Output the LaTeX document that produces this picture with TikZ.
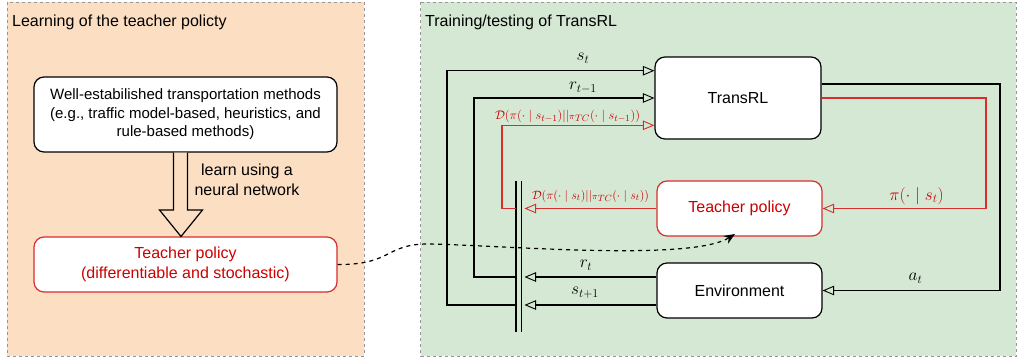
\documentclass[tikz,border=0pt]{standalone}
\usepackage{fontspec}
\usepackage{graphicx}
\setmainfont{Liberation Sans}
\usetikzlibrary{arrows.meta}
% larger sub- and superscripts for the small divergence labels
\DeclareMathSizes{12}{12}{9.5}{8}

\definecolor{peach}{RGB}{252,223,195}
\definecolor{mint}{RGB}{213,232,212}
\definecolor{tred}{RGB}{204,0,0}
\definecolor{lred}{RGB}{218,45,45}
\definecolor{framegray}{RGB}{150,150,150}

\tikzset{
  otri/.tip={Triangle[open,length=11.5pt,width=9.5pt,line width=0.9pt]},
  panel/.style={draw=framegray, line width=0.9pt, dash pattern=on 3pt off 3pt},
  box/.style={draw=black, line width=1.2pt, fill=white, rounded corners=10pt,
    inner sep=0pt, align=center, font=\fontsize{16}{20.5}\selectfont},
  redbox/.style={box, draw=lred, text=tred},
  link/.style={line width=1.2pt, -otri},
  redlink/.style={link, draw=lred},
  mlabel/.style={inner sep=0pt, font=\fontsize{17}{20}\selectfont},
  klabel/.style={inner sep=0pt, text=tred, font=\fontsize{12}{14}\selectfont},
  title/.style={anchor=west, inner sep=0pt, font=\fontsize{16}{20}\selectfont},
}

\begin{document}
\begin{tikzpicture}[x=1pt,y=-1pt]
\useasboundingbox (0,0) rectangle (1017,357);

% panels
\path[panel, fill=peach] (7,2) rectangle (364,356);
\path[panel, fill=mint] (420.5,2) rectangle (1016,356);
\node[title] (ltitle) at (12,22) {Learning of the teacher policty};
\node[title] (rtitle) at (425,22) {Training/testing of TransRL};

% left panel
\node[box, minimum width=303pt, minimum height=75pt,
      font=\fontsize{15}{18.5}\selectfont] (methods) at (185.5,114.5)
  {Well-estabilished transportation methods\\(e.g., traffic model-based, heuristics, and\\rule-based methods)};
\node[redbox, minimum width=303pt, minimum height=55pt] (tpL) at (185.5,264.5)
  {Teacher policy\\(differentiable and stochastic)};

% hollow block arrow between the two boxes
\draw[line width=1.2pt, fill=peach, line join=miter]
  (173.5,152.6) -- (173.5,210) -- (159.5,210) -- (181,236.5) -- (202.5,210) -- (187.5,210) -- (187.5,152.6);
\node[align=center, inner sep=0pt, font=\fontsize{16}{20}\selectfont] (learn) at (247,179.5)
  {learn using a\\neural network};

% right panel boxes
\node[box, minimum width=166pt, minimum height=82pt] (trans) at (738,98) {TransRL};
\node[redbox, minimum width=165pt, minimum height=55pt] (tpR) at (739.5,208.5) {Teacher policy};
\node[box, minimum width=165pt, minimum height=55pt] (env) at (739.5,290.5) {Environment};

% collecting bar
\coordinate (barA) at (516,181);
\coordinate (barB) at (516,332);
\coordinate (barC) at (521.5,181);
\coordinate (barD) at (521.5,332);
\draw[line width=1.3pt] (barA) -- (barB);
\draw[line width=1.3pt] (barC) -- (barD);

% environment / teacher outputs into the bar
\draw[link] (env.west |- 0,277) -- (524.5,277);
\draw[link] (env.west |- 0,305) -- (524.5,305);
\draw[redlink] (tpR.west) -- (524.5,208.5);
\node[mlabel] (lrt) at (586,265) {$r_t$};
\node[mlabel] (lst1) at (585,293) {$s_{t+1}$};
\node[klabel] (lkl2) at (590.5,196)
  {\resizebox{117pt}{!}{$\mathcal{D}(\pi(\cdot\mid s_t)||{\scriptstyle\pi}_{TC}(\cdot\mid s_t))$}};

% bar back into TransRL
\draw[link] (barB |- 0,305) -- (447,305) |- (trans.west |- 0,70.7);
\draw[link] (barB |- 0,277) -- (474,277) |- (trans.west |- 0,98);
\draw[redlink] (barB |- 0,208.5) -- (502,208.5) |- (trans.west |- 0,125.3);
\node[mlabel] (lst) at (583,58) {$s_t$};
\node[mlabel] (lrt1) at (583,88) {$r_{t-1}$};
\node[klabel] (lkl1) at (567.5,116.5)
  {\resizebox{145pt}{!}{$\mathcal{D}(\pi(\cdot\mid s_{t-1})||{\scriptstyle\pi}_{TC}(\cdot\mid s_{t-1}))$}};

% TransRL outputs
\draw[link] (trans.east |- 0,84) -| (1000,290.5) -- (env.east);
\draw[redlink] (trans.east |- 0,98) -| (986,208.5) -- (tpR.east);
\node[mlabel] (lat) at (915.5,278) {$a_t$};
\node[mlabel, text=tred] (lpi) at (916.5,196) {$\pi(\cdot\mid s_t)$};

% teacher policy carried over to the training loop
\coordinate (tiptp) at (735,234);
\draw[line width=1.2pt, dash pattern=on 4pt off 4pt, -{Stealth[length=11pt,width=9pt]}]
  (tpL.east) .. controls (392,265) and (385,244) .. (428,244)
  .. controls (500,245) and (690,262) .. (tiptp);
\end{tikzpicture}
\end{document}
